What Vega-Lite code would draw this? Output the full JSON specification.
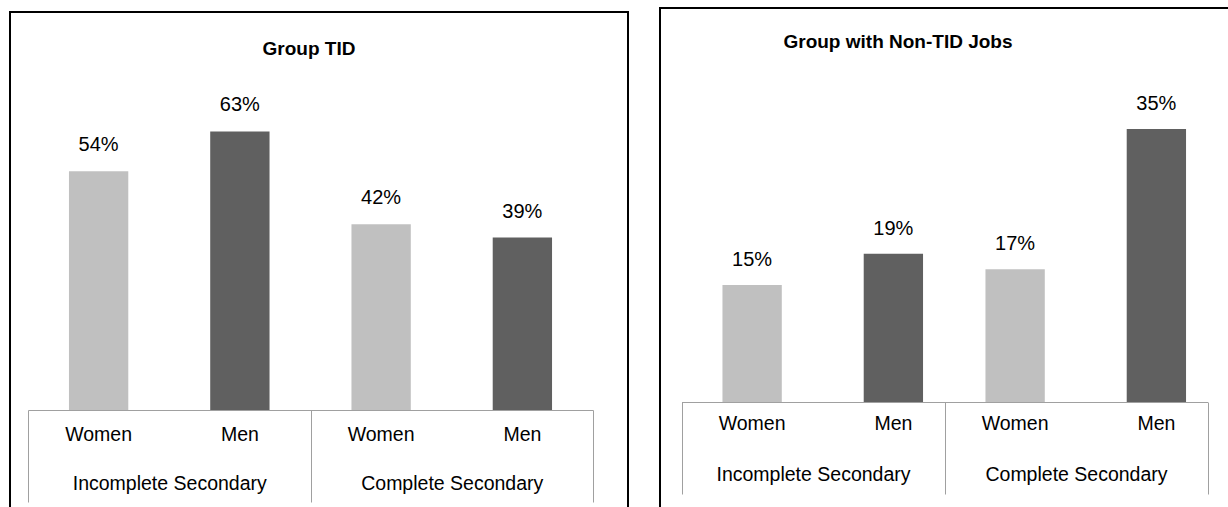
{
  "$schema": "https://vega.github.io/schema/vega-lite/v6.json",
  "background": "white",
  "padding": {"left": 9, "top": 7, "right": 0, "bottom": 0},
  "datasets": {
    "tid": [
      {"group": "Incomplete Secondary", "sex": "Women", "share": 0.54},
      {"group": "Incomplete Secondary", "sex": "Men", "share": 0.63},
      {"group": "Complete Secondary", "sex": "Women", "share": 0.42},
      {"group": "Complete Secondary", "sex": "Men", "share": 0.39}
    ],
    "nontid": [
      {"group": "Incomplete Secondary", "sex": "Women", "share": 0.15},
      {"group": "Incomplete Secondary", "sex": "Men", "share": 0.19},
      {"group": "Complete Secondary", "sex": "Women", "share": 0.17},
      {"group": "Complete Secondary", "sex": "Men", "share": 0.35}
    ]
  },
  "config": {
    "font": "Liberation Sans",
    "view": {"stroke": "black", "strokeWidth": 2},
    "title": {"font": "Liberation Sans", "fontSize": 19, "fontWeight": "bold", "color": "black", "anchor": "middle"},
    "axis": {
      "title": null,
      "grid": false,
      "domainColor": "#a0a0a0",
      "domainWidth": 1,
      "tickColor": "#a0a0a0",
      "tickWidth": 1,
      "tickSize": 92,
      "tickBand": "extent",
      "labelFont": "Liberation Sans",
      "labelFontSize": 19.5,
      "labelColor": "black",
      "labelAngle": 0,
      "labelBaseline": "middle",
      "labelLimit": 400,
      "labelOverlap": false
    },
    "text": {"font": "Liberation Sans", "color": "black"}
  },
  "spacing": 30,
  "center": true,
  "hconcat": [
    {
      "width": 618,
      "height": 520,
      "data": {"name": "tid"},
      "title": {"text": "Group TID", "offset": -47, "dx": -10},
      "encoding": {
        "x": {
          "field": "group",
          "type": "nominal",
          "sort": null,
          "scale": {"range": [18, 583], "paddingInner": 0, "paddingOuter": 0},
          "axis": {"orient": "bottom", "offset": -122, "labelPadding": -19}
        },
        "xOffset": {
          "field": "sex",
          "type": "nominal",
          "sort": ["Women", "Men"],
          "scale": {"paddingInner": 0.58, "paddingOuter": 0.29}
        },
        "y": {
          "field": "share",
          "type": "quantitative",
          "scale": {"domain": [0, 0.9], "range": [398, 0]},
          "axis": null
        }
      },
      "layer": [
        {
          "mark": {"type": "bar"},
          "encoding": {
            "color": {
              "field": "sex",
              "type": "nominal",
              "scale": {"domain": ["Women", "Men"], "range": ["#c0c0c0", "#606060"]},
              "legend": null
            }
          }
        },
        {
          "mark": {"type": "text", "dy": -26, "fontSize": 20, "baseline": "middle"},
          "encoding": {"text": {"field": "share", "type": "quantitative", "format": ".0%"}}
        },
        {
          "mark": {"type": "text", "dy": 25, "fontSize": 19.5, "baseline": "middle"},
          "encoding": {"y": {"datum": 0}, "text": {"field": "sex", "type": "nominal"}}
        }
      ]
    },
    {
      "width": 590,
      "height": 528,
      "data": {"name": "nontid"},
      "title": {"text": "Group with Non-TID Jobs", "offset": -44, "dx": -57},
      "encoding": {
        "x": {
          "field": "group",
          "type": "nominal",
          "sort": null,
          "scale": {"range": [21.5, 547.5], "paddingInner": 0, "paddingOuter": 0},
          "axis": {"orient": "bottom", "offset": -134, "labelPadding": -20}
        },
        "xOffset": {
          "field": "sex",
          "type": "nominal",
          "sort": ["Women", "Men"],
          "scale": {"paddingInner": 0.59, "paddingOuter": 0.295}
        },
        "y": {
          "field": "share",
          "type": "quantitative",
          "scale": {"domain": [0, 0.505], "range": [394, 0]},
          "axis": null
        }
      },
      "layer": [
        {
          "mark": {"type": "bar"},
          "encoding": {
            "color": {
              "field": "sex",
              "type": "nominal",
              "scale": {"domain": ["Women", "Men"], "range": ["#c0c0c0", "#606060"]},
              "legend": null
            }
          }
        },
        {
          "mark": {"type": "text", "dy": -25, "fontSize": 20, "baseline": "middle"},
          "encoding": {"text": {"field": "share", "type": "quantitative", "format": ".0%"}}
        },
        {
          "mark": {"type": "text", "dy": 22, "fontSize": 19.5, "baseline": "middle"},
          "encoding": {"y": {"datum": 0}, "text": {"field": "sex", "type": "nominal"}}
        }
      ]
    }
  ]
}
